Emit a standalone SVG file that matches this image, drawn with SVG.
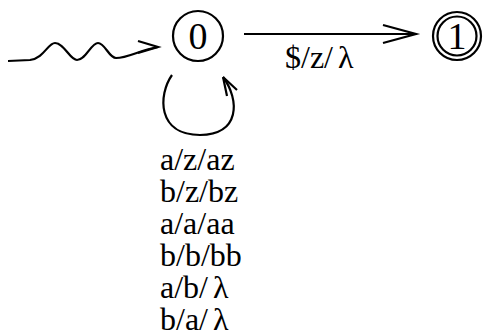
<svg xmlns="http://www.w3.org/2000/svg" width="483" height="334" viewBox="0 0 483 334">
<style>
.st{fill:none;stroke:#000;stroke-width:2.2}
.ln{fill:none;stroke:#000;stroke-width:2.2;stroke-linecap:butt}
text{font-family:"Liberation Serif","Times New Roman",serif;fill:#000}
.num{font-size:38px;text-anchor:middle}
.lbl{font-size:32px}
</style>
<rect width="483" height="334" fill="#fff"/>
<g id="node-0">
<circle class="st" cx="198" cy="36" r="25"/>
<text class="num" x="198" y="49">0</text>
</g>
<g id="node-1">
<circle class="st" cx="457" cy="36" r="24"/>
<circle class="st" cx="457" cy="36" r="19.5"/>
<text class="num" x="457" y="49">1</text>
</g>
<g id="connectors">
<g id="start">
<path class="ln" d="M8,61 L30,60 C44,58 48,43 55,43 C64,43 70,60 77,60 C86,60 91,43 98,43 C105,43 109,58 116,58 C128,58 140,50 158,47"/>
<path class="ln" d="M138,41 L158,47 L138,53"/>
</g>
<g id="edge-0-1">
<line class="ln" x1="244" y1="34" x2="416" y2="34"/>
<path class="ln" d="M383,25 L416,34 L383,43"/>
<text class="lbl" x="285" y="68">$/z/<tspan dx="5">λ</tspan></text>
</g>
<g id="loop-0">
<path class="ln" d="M172,75 C158,95 157,135 200,135 C240,135 240,100 223,77"/>
<path class="ln" d="M223,77 L237,90 M223,77 L227,96"/>
<text class="lbl" x="160" y="170">a/z/az</text>
<text class="lbl" x="160" y="202">b/z/bz</text>
<text class="lbl" x="160" y="234">a/a/aa</text>
<text class="lbl" x="160" y="266">b/b/bb</text>
<text class="lbl" x="160" y="298">a/b/<tspan dx="5">λ</tspan></text>
<text class="lbl" x="160" y="330">b/a/<tspan dx="5">λ</tspan></text>
</g>
</g>
</svg>
